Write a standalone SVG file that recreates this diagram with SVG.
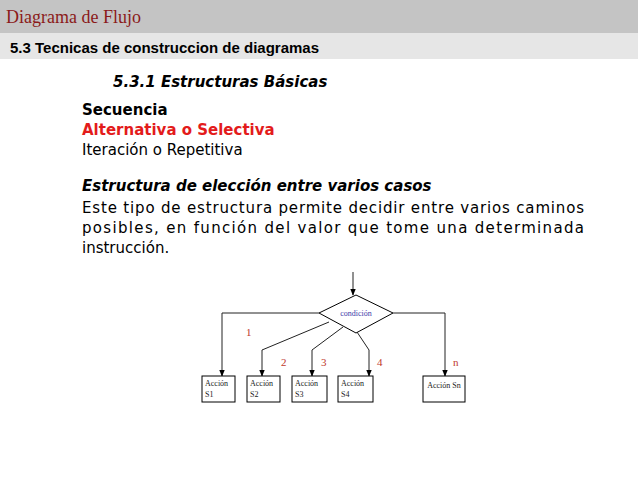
<svg xmlns="http://www.w3.org/2000/svg" width="638" height="478" viewBox="0 0 638 478">
<style>
.b{font-family:"DejaVu Sans",sans-serif;font-size:15px}
.box{fill:#fff;stroke:#000;stroke-width:1}
.bt{font-family:"Liberation Serif",serif;font-size:8px;fill:#222}
.n{font-family:"Liberation Serif",serif;font-size:11px;fill:#c0392b}
.c{fill:none;stroke:#222;stroke-width:1}
</style>
<defs><marker id="a" viewBox="0 0 10 10" refX="9" refY="5" markerWidth="7" markerHeight="7" orient="auto"><path d="M0,1 L10,5 L0,9z" fill="#000"/></marker></defs>
<rect width="638" height="478" fill="#fff"/>
<rect width="638" height="33" fill="#c4c4c4"/>
<rect y="33" width="638" height="26" fill="#e6e6e6"/>
<text x="6" y="23" font-family="Liberation Serif,serif" font-size="18" fill="#8b1a1a">Diagrama de Flujo</text>
<text x="10" y="53" font-family="Liberation Sans,sans-serif" font-size="15" font-weight="bold">5.3 Tecnicas de construccion de diagramas</text>
<text x="113" y="87" class="b" font-weight="bold" font-style="italic">5.3.1 Estructuras Básicas</text>
<text x="82" y="115" class="b" font-weight="bold">Secuencia</text>
<text x="82" y="135" class="b" font-weight="bold" fill="#e31b1b">Alternativa o Selectiva</text>
<text x="82" y="155" class="b">Iteración o Repetitiva</text>
<text x="82" y="191" class="b" font-weight="bold" font-style="italic">Estructura de elección entre varios casos</text>
<text x="82" y="213" class="b" textLength="502" lengthAdjust="spacing">Este tipo de estructura permite decidir entre varios caminos</text>
<text x="82" y="233" class="b" textLength="502" lengthAdjust="spacing">posibles, en función del valor que tome una determinada</text>
<text x="82" y="253" class="b">instrucción.</text>
<g id="connectors">
<path class="c" d="M353,272 V295" marker-end="url(#a)"/>
<path class="c" d="M319,313 H222 V376" marker-end="url(#a)"/>
<path class="c" d="M329,322 L262,350 V376" marker-end="url(#a)"/>
<path class="c" d="M343,327 L312,350 V376" marker-end="url(#a)"/>
<path class="c" d="M357,332 L369,350 V376" marker-end="url(#a)"/>
<path class="c" d="M393,313 H445 V376" marker-end="url(#a)"/>
<text x="246" y="336" class="n">1</text>
<text x="281" y="366" class="n">2</text>
<text x="321" y="366" class="n">3</text>
<text x="377" y="366" class="n">4</text>
<text x="453" y="366" class="n">n</text>
</g>
<g id="cond"><polygon points="356,295 393,313 356,333 319,313" class="box"/><text x="356" y="316" class="bt" fill="#3333aa" style="fill:#3a3aa8" text-anchor="middle">condición</text></g>
<g id="s1"><rect x="202" y="376" width="33" height="26" class="box"/><text x="205" y="386" class="bt">Acción</text><text x="205" y="397" class="bt">S1</text></g>
<g id="s2"><rect x="247" y="376" width="33" height="26" class="box"/><text x="250" y="386" class="bt">Acción</text><text x="250" y="397" class="bt">S2</text></g>
<g id="s3"><rect x="292" y="376" width="35" height="26" class="box"/><text x="295" y="386" class="bt">Acción</text><text x="295" y="397" class="bt">S3</text></g>
<g id="s4"><rect x="338" y="376" width="35" height="26" class="box"/><text x="341" y="386" class="bt">Acción</text><text x="341" y="397" class="bt">S4</text></g>
<g id="sn"><rect x="423" y="376" width="42" height="26" class="box"/><text x="444" y="388" class="bt" text-anchor="middle">Acción Sn</text></g>
</svg>
